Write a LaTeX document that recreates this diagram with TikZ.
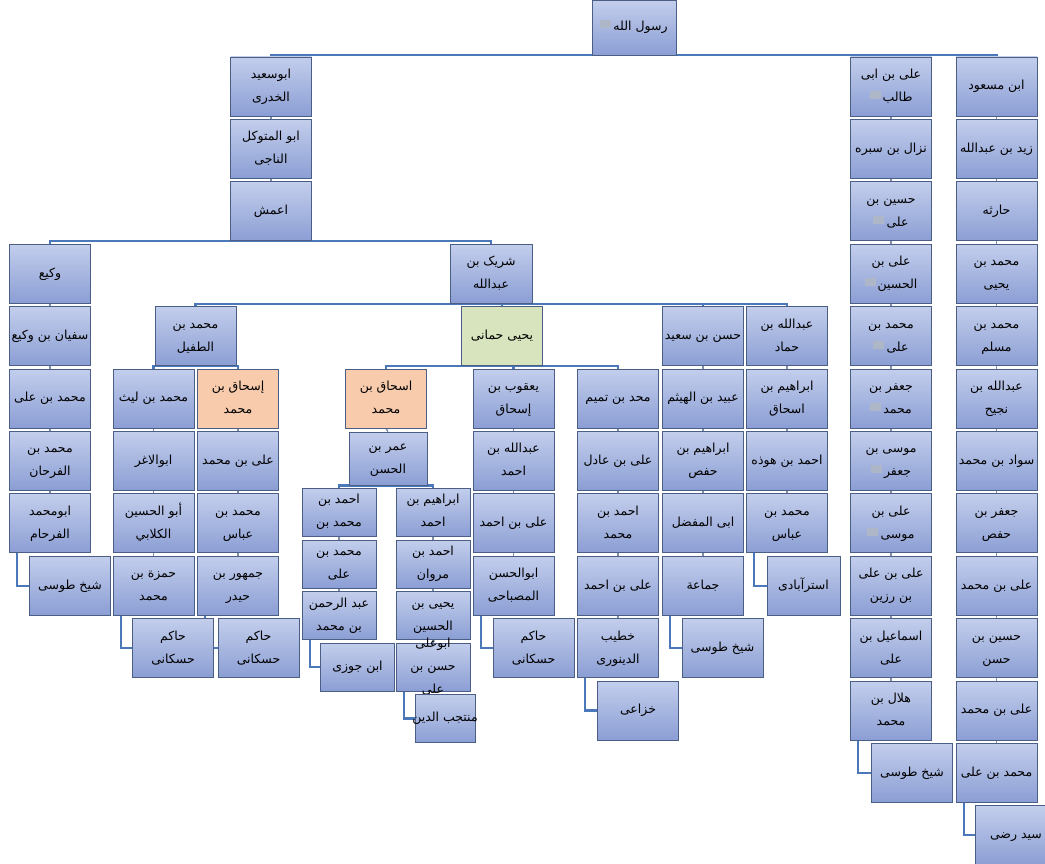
\documentclass[tikz,border=0pt]{standalone}
\usepackage{fontspec}
\usepackage{tikz}
\usetikzlibrary{positioning,backgrounds}
\newfontfamily\arabicfont[Script=Arabic]{DejaVu Sans}
\TeXXeTstate=1
\definecolor{boxtop}{HTML}{C3CEEC}
\definecolor{boxbot}{HTML}{8B9ED4}
\definecolor{boxline}{HTML}{4B5E86}
\definecolor{wire}{HTML}{4A78B8}
\definecolor{peach}{HTML}{F8CBAD}
\definecolor{sage}{HTML}{D7E4BD}
\newcommand\rl[1]{\beginR#1\endR}
\newcommand\nm[1]{\makebox[0pt]{\raisebox{-.3em}{\smash{\begin{tabular}{@{}c@{}}#1\end{tabular}}}}}
\newcommand\emblem{{\color{boxline!45}\rule[2.5pt]{11pt}{8pt}}\,}
\tikzset{
  person/.style={draw=boxline,line width=.8pt,top color=boxtop,bottom color=boxbot,
    minimum width=81pt,minimum height=59pt,inner sep=0pt,
    font={\arabicfont\fontsize{12.5}{23}\selectfont}},
  small/.style={person,minimum width=74pt,minimum height=48pt},
  peachbox/.style={person,top color=peach,bottom color=peach},
  greenbox/.style={person,top color=sage,bottom color=sage},
  wire/.style={draw=wire,line width=2.2pt},
  tick/.style={draw=boxline!70,line width=1.4pt}
}
\begin{document}
\begin{tikzpicture}[x=1pt,y=-1pt]
  \useasboundingbox (0,0) rectangle (1045,864);
  \node[person,minimum width=84pt,minimum height=55pt] (rasul) at (634,27.5) {\nm{\emblem\rl{رسول الله}}};
  % ابوسعید
  \node[person] (khodri) at (271,86.5) {\nm{\rl{ابوسعید}\\\rl{الخدری}}};
  \node[person] (naji) at (271,148.9) {\nm{\rl{ابو المتوکل}\\\rl{الناجی}}};
  \node[person] (aamash) at (271,211.3) {\nm{\rl{اعمش}}};
  % علی بن ابی طالب
  \node[person] (ali) at (891,86.5) {\nm{\rl{علی بن ابی}\\\emblem\rl{طالب}}};
  \node[person] (nazzal) at (891,148.9) {\nm{\rl{نزال بن سبره}}};
  \node[person] (husayn) at (891,211.3) {\nm{\rl{حسین بن}\\\emblem\rl{علی}}};
  \node[person] (sajjad) at (891,273.7) {\nm{\rl{علی بن}\\\emblem\rl{الحسین}}};
  \node[person] (baqir) at (891,336.1) {\nm{\rl{محمد بن}\\\emblem\rl{علی}}};
  \node[person] (sadiq) at (891,398.5) {\nm{\rl{جعفر بن}\\\emblem\rl{محمد}}};
  \node[person] (kazim) at (891,460.9) {\nm{\rl{موسی بن}\\\emblem\rl{جعفر}}};
  \node[person] (rida) at (891,523.3) {\nm{\rl{علی بن}\\\emblem\rl{موسی}}};
  \node[person] (razin) at (891,585.7) {\nm{\rl{علی بن علی}\\\rl{بن رزین}}};
  \node[person] (ismail) at (891,648.1) {\nm{\rl{اسماعیل بن}\\\rl{علی}}};
  \node[person] (hilal) at (891,710.5) {\nm{\rl{هلال بن}\\\rl{محمد}}};
  \node[person] (tusiR) at (912,772.9) {\nm{\rl{شیخ طوسی}}};
  % ابن مسعود
  \node[person] (masud) at (996.5,86.5) {\nm{\rl{ابن مسعود}}};
  \node[person] (zayd) at (996.5,148.9) {\nm{\rl{زید بن عبدالله}}};
  \node[person] (haritha) at (996.5,211.3) {\nm{\rl{حارثه}}};
  \node[person] (myahya) at (996.5,273.7) {\nm{\rl{محمد بن}\\\rl{یحیی}}};
  \node[person] (mmuslim) at (996.5,336.1) {\nm{\rl{محمد بن}\\\rl{مسلم}}};
  \node[person] (najih) at (996.5,398.5) {\nm{\rl{عبدالله بن}\\\rl{نجیح}}};
  \node[person] (sawad) at (996.5,460.9) {\nm{\rl{سواد بن محمد}}};
  \node[person] (jafar) at (996.5,523.3) {\nm{\rl{جعفر بن}\\\rl{حفص}}};
  \node[person] (alimA) at (996.5,585.7) {\nm{\rl{علی بن محمد}}};
  \node[person] (husaynh) at (996.5,648.1) {\nm{\rl{حسین بن}\\\rl{حسن}}};
  \node[person] (alimB) at (996.5,710.5) {\nm{\rl{علی بن محمد}}};
  \node[person] (malii) at (996.5,772.9) {\nm{\rl{محمد بن علی}}};
  \node[person] (radi) at (1016,835.3) {\nm{\rl{سید رضی}}};
  % وکیع
  \node[person] (wakie) at (50,273.7) {\nm{\rl{وکیع}}};
  \node[person] (sufyan) at (50,336.1) {\nm{\rl{سفیان بن وکیع}}};
  \node[person] (maliW) at (50,398.5) {\nm{\rl{محمد بن علی}}};
  \node[person] (farhan) at (50,460.9) {\nm{\rl{محمد بن}\\\rl{الفرحان}}};
  \node[person] (farham) at (50,523.3) {\nm{\rl{ابومحمد}\\\rl{الفرحام}}};
  \node[person] (tusiW) at (70,585.7) {\nm{\rl{شیخ طوسی}}};
  % شریک
  \node[person,minimum width=82pt] (sharik) at (491,273.7) {\nm{\rl{شریک بن}\\\rl{عبدالله}}};
  \node[person] (tufayl) at (195.5,336.1) {\nm{\rl{محمد بن}\\\rl{الطفیل}}};
  \node[greenbox] (hamani) at (502,336.1) {\nm{\rl{یحیی حمانی}}};
  \node[person] (hsaid) at (703,336.1) {\nm{\rl{حسن بن سعید}}};
  \node[person] (hammad) at (787,336.1) {\nm{\rl{عبدالله بن}\\\rl{حماد}}};
  % محمد بن الطفیل
  \node[person] (layth) at (153.5,398.5) {\nm{\rl{محمد بن لیث}}};
  \node[person] (aghar) at (153.5,460.9) {\nm{\rl{ابوالاغر}}};
  \node[person] (kalabi) at (153.5,523.3) {\nm{\rl{أبو الحسین}\\\rl{الکلابي}}};
  \node[person] (hamza) at (153.5,585.7) {\nm{\rl{حمزة بن}\\\rl{محمد}}};
  \node[person] (hakimA) at (173,648.1) {\nm{\rl{حاکم}\\\rl{حسکانی}}};
  \node[peachbox] (ishaqA) at (238,398.5) {\nm{\rl{إسحاق بن}\\\rl{محمد}}};
  \node[person] (alimC) at (238,460.9) {\nm{\rl{علی بن محمد}}};
  \node[person] (abbasA) at (238,523.3) {\nm{\rl{محمد بن}\\\rl{عباس}}};
  \node[person] (jumhur) at (238,585.7) {\nm{\rl{جمهور بن}\\\rl{حیدر}}};
  \node[person] (hakimB) at (258.5,648.1) {\nm{\rl{حاکم}\\\rl{حسکانی}}};
  % یحیی حمانی
  \node[peachbox] (ishaqB) at (386,398.5) {\nm{\rl{اسحاق بن}\\\rl{محمد}}};
  \node[person,minimum width=78pt,minimum height=53pt] (umar) at (388,458.5) {\nm{\rl{عمر بن}\\\rl{الحسن}}};
  \node[small] (ahmadm) at (339,512) {\nm{\rl{احمد بن}\\\rl{محمد بن}}};
  \node[small] (malis) at (339,564) {\nm{\rl{محمد بن}\\\rl{علی}}};
  \node[small] (abdrah) at (339,615.5) {\nm{\rl{عبد الرحمن}\\\rl{بن محمد}}};
  \node[small] (jawzi) at (357.5,667) {\nm{\rl{ابن جوزی}}};
  \node[small] (ibahmad) at (433,512) {\nm{\rl{ابراهیم بن}\\\rl{احمد}}};
  \node[small] (marwan) at (433,564) {\nm{\rl{احمد بن}\\\rl{مروان}}};
  \node[small] (yahyah) at (433,615.5) {\nm{\rl{یحیی بن}\\\rl{الحسین}}};
  \node[small] (abuali) at (433,667) {\nm{\rl{ابوعلی}\\\rl{حسن بن}\\\rl{علی}}};
  \node[small,minimum width=60pt] (muntajab) at (445,718.5) {\nm{\rl{منتجب الدین}}};
  \node[person] (yaqub) at (513.5,398.5) {\nm{\rl{یعقوب بن}\\\rl{إسحاق}}};
  \node[person] (abdahmad) at (513.5,460.9) {\nm{\rl{عبدالله بن}\\\rl{احمد}}};
  \node[person] (aliahA) at (513.5,523.3) {\nm{\rl{علی بن احمد}}};
  \node[person] (misbahi) at (513.5,585.7) {\nm{\rl{ابوالحسن}\\\rl{المصباحی}}};
  \node[person] (hakimC) at (533.5,648.1) {\nm{\rl{حاکم}\\\rl{حسکانی}}};
  \node[person] (tamim) at (618,398.5) {\nm{\rl{محد بن تمیم}}};
  \node[person] (adil) at (618,460.9) {\nm{\rl{علی بن عادل}}};
  \node[person] (ahmadmB) at (618,523.3) {\nm{\rl{احمد بن}\\\rl{محمد}}};
  \node[person] (aliahB) at (618,585.7) {\nm{\rl{علی بن احمد}}};
  \node[person] (khatib) at (618,648.1) {\nm{\rl{خطیب}\\\rl{الدینوری}}};
  \node[person] (khuzai) at (638,710.5) {\nm{\rl{خزاعی}}};
  % حسن بن سعید
  \node[person] (ubayd) at (703,398.5) {\nm{\rl{عبید بن الهیثم}}};
  \node[person] (ibhafs) at (703,460.9) {\nm{\rl{ابراهیم بن}\\\rl{حفص}}};
  \node[person] (mufaddal) at (703,523.3) {\nm{\rl{ابی المفضل}}};
  \node[person] (jamaa) at (703,585.7) {\nm{\rl{جماعة}}};
  \node[person] (tusiH) at (722.5,648.1) {\nm{\rl{شیخ طوسی}}};
  % عبدالله بن حماد
  \node[person] (ibishaq) at (787,398.5) {\nm{\rl{ابراهیم بن}\\\rl{اسحاق}}};
  \node[person] (hawdha) at (787,460.9) {\nm{\rl{احمد بن هوذه}}};
  \node[person] (abbasB) at (787,523.3) {\nm{\rl{محمد بن}\\\rl{عباس}}};
  \node[person,minimum width=73pt] (astar) at (803.5,585.7) {\nm{\rl{استرآبادی}}};

  \begin{scope}[on background layer]
    \foreach \c in {khodri,ali,masud} \draw[wire] (rasul.south) -| (\c.north);
    \foreach \c in {wakie,sharik} \draw[wire] (aamash.south) -| (\c.north);
    \foreach \c in {tufayl,hamani,hsaid,hammad} \draw[wire] (sharik.south) -| (\c.north);
    \foreach \c in {layth,ishaqA} \draw[wire] (tufayl.south) -| (\c.north);
    \foreach \c in {ishaqB,yaqub,tamim} \draw[wire] (hamani.south) -| (\c.north);
    \foreach \c in {ahmadm,ibahmad} \draw[wire] (umar.south) -| (\c.north);
    \foreach \a/\b in {farham/tusiW,hamza/hakimA,jumhur/hakimB,abdrah/jawzi,abuali/muntajab,
      misbahi/hakimC,khatib/khuzai,jamaa/tusiH,abbasB/astar,hilal/tusiR,malii/radi}
      \draw[wire] ([xshift=8pt]\a.south west) |- (\b.west);
    \foreach \a/\b in {khodri/naji,naji/aamash,ali/nazzal,nazzal/husayn,husayn/sajjad,sajjad/baqir,
      baqir/sadiq,sadiq/kazim,kazim/rida,rida/razin,razin/ismail,ismail/hilal,
      masud/zayd,zayd/haritha,haritha/myahya,myahya/mmuslim,mmuslim/najih,najih/sawad,
      sawad/jafar,jafar/alimA,alimA/husaynh,husaynh/alimB,alimB/malii,
      wakie/sufyan,sufyan/maliW,maliW/farhan,farhan/farham,
      layth/aghar,aghar/kalabi,kalabi/hamza,ishaqA/alimC,alimC/abbasA,abbasA/jumhur,
      ishaqB/umar,ahmadm/malis,malis/abdrah,ibahmad/marwan,marwan/yahyah,yahyah/abuali,
      yaqub/abdahmad,abdahmad/aliahA,aliahA/misbahi,
      tamim/adil,adil/ahmadmB,ahmadmB/aliahB,aliahB/khatib,
      hsaid/ubayd,ubayd/ibhafs,ibhafs/mufaddal,mufaddal/jamaa,
      hammad/ibishaq,ibishaq/hawdha,hawdha/abbasB}
      \draw[tick] (\a.south) -- (\b.north);
  \end{scope}
\end{tikzpicture}
\end{document}
